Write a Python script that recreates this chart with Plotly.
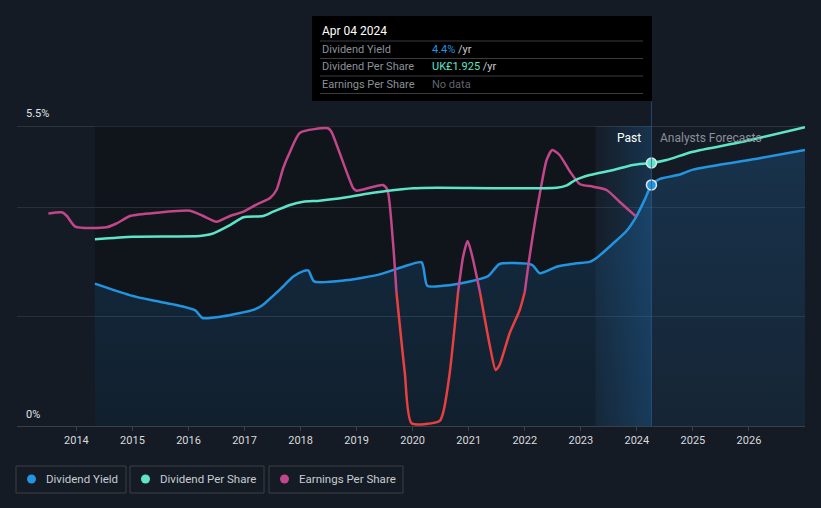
import plotly.graph_objects as go

# ---------------- data ----------------
years = [2014, 2015, 2016, 2017, 2018, 2019, 2020, 2021, 2022, 2023, 2024, 2025, 2026]
year_labels = [str(y) for y in years]

today = 2024.26          # Apr 04 2024
past_band_start = 2023.26
data_start = 2014.33

yield_x = [2014.33, 2014.95, 2015.37, 2015.73, 2016.12, 2016.25, 2016.62, 2017.16, 2017.30, 2017.63,
           2017.87, 2018.05, 2018.14, 2018.24, 2018.80, 2019.41, 2019.83, 2020.16, 2020.26, 2020.54,
           2021.02, 2021.35, 2021.55, 2022.08, 2022.15, 2022.27, 2022.57, 2022.90, 2023.16, 2023.28,
           2023.58, 2023.81, 2023.99, 2024.14, 2024.26, 2024.41, 2024.77, 2025.00, 2026.19, 2027.00]
yield_y = [2.61, 2.40, 2.30, 2.23, 2.12, 1.98, 2.01, 2.13, 2.20, 2.50,
           2.74, 2.84, 2.85, 2.65, 2.67, 2.78, 2.92, 3.00, 2.57, 2.57,
           2.65, 2.75, 2.97, 2.97, 2.94, 2.80, 2.92, 2.98, 3.01, 3.08,
           3.35, 3.57, 3.84, 4.15, 4.42, 4.53, 4.61, 4.70, 4.91, 5.06]

dps_x = [2014.33, 2015.01, 2016.20, 2016.41, 2016.74, 2016.98, 2017.33, 2017.51, 2017.81, 2018.05,
         2018.34, 2018.82, 2019.24, 2019.53, 2020.01, 2020.43, 2022.57, 2022.75, 2022.90, 2023.16,
         2023.58, 2023.93, 2024.26, 2024.53, 2025.00, 2025.89, 2027.00]
dps_y = [1.367, 1.386, 1.391, 1.405, 1.471, 1.528, 1.537, 1.569, 1.618, 1.642,
         1.649, 1.674, 1.703, 1.720, 1.740, 1.744, 1.744, 1.762, 1.800, 1.837,
         1.874, 1.911, 1.925, 1.947, 2.008, 2.081, 2.187]

eps_x = [2013.50, 2013.74, 2013.83, 2013.98, 2014.54, 2014.72, 2014.97, 2015.43, 2016.03, 2016.26,
         2016.50, 2016.74, 2016.98, 2017.22, 2017.45, 2017.57, 2017.69, 2017.81, 2017.99, 2018.49,
         2018.55, 2018.94, 2019.00, 2019.47, 2019.55, 2019.65, 2019.71, 2019.86, 2019.98, 2020.48,
         2020.54, 2020.66, 2020.81, 2020.90, 2020.98, 2021.05, 2021.20, 2021.38, 2021.48, 2021.55,
         2021.73, 2021.91, 2022.00, 2022.09, 2022.27, 2022.39, 2022.49, 2022.62, 2022.80, 2022.98,
         2023.22, 2023.46, 2023.69, 2023.99]
eps_y = [0.785, 0.797, 0.760, 0.653, 0.647, 0.687, 0.762, 0.793, 0.813, 0.760,
         0.703, 0.760, 0.803, 0.877, 0.937, 1.020, 1.240, 1.400, 1.593, 1.637,
         1.603, 1.037, 1.013, 1.070, 1.020, 0.487, 0.0, -0.810, -1.313, -1.290,
         -1.213, -0.813, 0.0, 0.353, 0.510, 0.387, 0.0, -0.547, -0.780, -0.730,
         -0.413, -0.180, 0.0, 0.370, 0.987, 1.320, 1.420, 1.370, 1.210, 1.080,
         1.053, 1.020, 0.903, 0.753]

# ---------------- styling ----------------
BG = "#151b24"
BLUE = "#2394df"
TEAL = "#5ee5c8"
MAGENTA = "#c2468a"
RED = "#e8403f"
FONT = "Roboto"

W, H = 821, 508
L, R, T, B = 17, 805, 126, 426


def px(p):
    return (p - L) / (R - L)


def py(p):
    return (B - p) / (B - T)


fig = go.Figure()

# highlight band for the last year before today (horizontal gradient)
fig.add_trace(go.Scatter(
    x=[past_band_start, today, today, past_band_start, past_band_start],
    y=[0, 0, 5.5, 5.5, 0], mode="lines", line=dict(width=0),
    fill="toself",
    fillgradient=dict(type="horizontal",
                      colorscale=[[0, "rgba(33,150,243,0.02)"], [1, "rgba(33,150,243,0.2)"]]),
    hoverinfo="skip", showlegend=False))

# dividend yield with area
fig.add_trace(go.Scatter(
    x=yield_x, y=yield_y, mode="lines",
    line=dict(color=BLUE, width=2.5, shape="spline", smoothing=0.6),
    fill="tozeroy",
    fillgradient=dict(type="vertical",
                      colorscale=[[0, "rgba(33,150,243,0.08)"], [1, "rgba(33,150,243,0.19)"]]),
    name="Dividend Yield", hoverinfo="skip", showlegend=False))

# dividend per share (own scale)
fig.add_trace(go.Scatter(
    x=dps_x, y=dps_y, mode="lines", yaxis="y3",
    line=dict(color=TEAL, width=2.5, shape="spline", smoothing=0.6),
    name="Dividend Per Share", hoverinfo="skip", showlegend=False))

# earnings per share (own scale), red when negative
pos_y = [v if v >= 0 else None for v in eps_y]
neg_y = [v if v <= 0 else None for v in eps_y]
fig.add_trace(go.Scatter(
    x=eps_x, y=pos_y, mode="lines", yaxis="y2", connectgaps=False,
    line=dict(color=MAGENTA, width=2.5, shape="spline", smoothing=0.6),
    name="Earnings Per Share", hoverinfo="skip", showlegend=False))
fig.add_trace(go.Scatter(
    x=eps_x, y=neg_y, mode="lines", yaxis="y2", connectgaps=False,
    line=dict(color=RED, width=2.5, shape="spline", smoothing=0.6),
    hoverinfo="skip", showlegend=False))

# today markers
i_y = yield_x.index(today)
i_d = dps_x.index(today)
fig.add_trace(go.Scatter(x=[yield_x[i_y]], y=[yield_y[i_y]], mode="markers",
                         marker=dict(size=10, color=BLUE, line=dict(color="#dfe6ee", width=1.5)),
                         hoverinfo="skip", showlegend=False))
fig.add_trace(go.Scatter(x=[dps_x[i_d]], y=[dps_y[i_d]], mode="markers", yaxis="y3",
                         marker=dict(size=10, color=TEAL, line=dict(color="#dfe6ee", width=1.5)),
                         hoverinfo="skip", showlegend=False))

shapes = []
# darker past region
shapes.append(dict(type="rect", xref="x", yref="y", x0=data_start, x1=past_band_start, y0=0, y1=5.5,
                   fillcolor="rgba(0,0,0,0.2)", line=dict(width=0), layer="below"))
# top gridline
shapes.append(dict(type="line", xref="paper", yref="y", x0=0, x1=1, y0=5.5, y1=5.5,
                   line=dict(color="#474c54", width=1), layer="below"))
# today line
shapes.append(dict(type="line", xref="x", yref="paper", x0=today, x1=today, y0=0, y1=py(101),
                   line=dict(color="rgba(45,90,135,0.7)", width=1), layer="above"))
# tooltip box
shapes.append(dict(type="rect", xref="paper", yref="paper", x0=px(312), x1=px(652), y0=py(101), y1=py(16),
                   fillcolor="#000000", line=dict(width=0), layer="above"))
for ly in [41, 58.5, 76, 93.5]:
    shapes.append(dict(type="line", xref="paper", yref="paper", x0=px(320), x1=px(643), y0=py(ly), y1=py(ly),
                       line=dict(color="#3a3d43", width=1), layer="above"))

annotations = []


def note(text, x, y, size=11, color="#d0d4da", xanchor="left"):
    annotations.append(dict(text=text, x=px(x), y=py(y), xref="paper", yref="paper",
                            xanchor=xanchor, yanchor="middle", showarrow=False,
                            font=dict(family=FONT, size=size, color=color)))


note("5.5%", 24, 114, 11, "#e0e3e7")
note("0%", 24, 414, 11, "#e0e3e7")
note("Past", 643, 138, 12, "#ffffff", "right")
note("Analysts Forecasts", 658, 138, 12, "#8b9099")

# tooltip text
note("Apr 04 2024", 320, 31, 12, "#ffffff")
note("Dividend Yield", 320, 49.5, 11, "#8b9099")
note("Dividend Per Share", 320, 67, 11, "#8b9099")
note("Earnings Per Share", 320, 84.5, 11, "#8b9099")
note("<span style='color:%s'>4.4%%</span> /yr" % BLUE, 430, 49.5, 11, "#c8ccd2")
note("<span style='color:%s'>UK£1.925</span> /yr" % TEAL, 430, 67, 11, "#c8ccd2")
note("No data", 430, 84.5, 11, "#5f646c")

# custom legend
legend_items = [("Dividend Yield", BLUE, 16, 126), ("Dividend Per Share", TEAL, 130, 264),
                ("Earnings Per Share", MAGENTA, 269, 403)]
for label, col, x0, x1 in legend_items:
    shapes.append(dict(type="rect", xref="paper", yref="paper", x0=px(x0), x1=px(x1), y0=py(493), y1=py(466),
                       line=dict(color="#3a3f47", width=1), fillcolor="rgba(0,0,0,0)", layer="above"))
    cx = x0 + 15.5
    shapes.append(dict(type="circle", xref="paper", yref="paper", x0=px(cx - 4.5), x1=px(cx + 4.5),
                       y0=py(483.5), y1=py(474.5), fillcolor=col, line=dict(width=0), layer="above"))
    note(label, x0 + 28, 479.5, 11.5, "#c8ccd2")

fig.update_layout(
    width=W, height=H, autosize=False,
    paper_bgcolor=BG, plot_bgcolor=BG,
    margin=dict(l=L, r=W - R, t=T, b=H - B, pad=0),
    showlegend=False,
    font=dict(family=FONT, color="#d7dade"),
    xaxis=dict(range=[2012.94, 2027.0], tickmode="array", tickvals=years, ticktext=year_labels,
               ticks="outside", ticklen=4, tickcolor="#3b4048", showline=True, linecolor="#3b4048",
               linewidth=1, showgrid=False, zeroline=False, tickfont=dict(size=11, color="#d7dade"),
               fixedrange=True),
    yaxis=dict(range=[0, 5.5], tickmode="array", tickvals=[2, 4], showticklabels=False,
               gridcolor="#2a3039", gridwidth=1, zeroline=False, showline=False, fixedrange=True),
    yaxis2=dict(range=[-1.34, 1.66], overlaying="y", visible=False, fixedrange=True),
    yaxis3=dict(range=[0, 2.196], overlaying="y", visible=False, fixedrange=True),
    shapes=shapes, annotations=annotations,
)

fig.write_html("out.html", config={"displayModeBar": False},
               post_script="document.body.style.margin='0';document.body.style.background='%s';" % BG)
